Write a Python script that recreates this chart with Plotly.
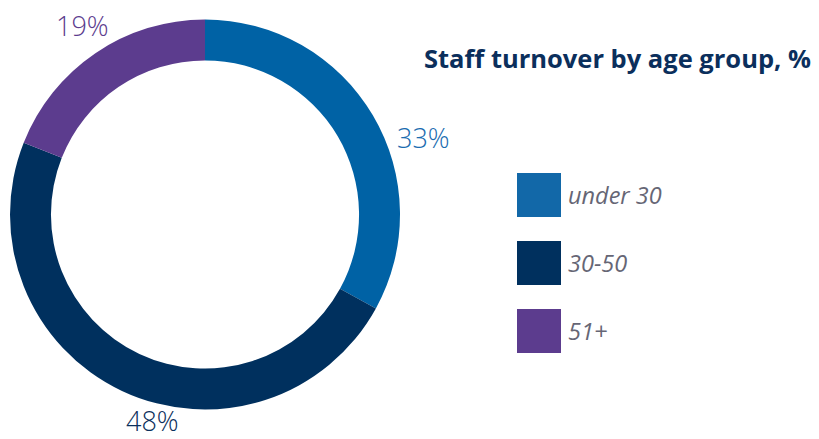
import plotly.graph_objects as go

# Staff turnover shares by age group
groups = ["under 30", "30-50", "51+"]
shares = [33, 48, 19]
slice_colors = ["#0062A5", "#00305E", "#5C3C8E"]
label_colors = ["#1A6CB0", "#0B2F5C", "#5C3C8E"]
legend_colors = ["#1268A8", "#00305E", "#5C3C8E"]
title_text = "Staff turnover by age group, %"

W, H = 819, 439

fig = go.Figure(
    go.Pie(
        labels=groups,
        values=shares,
        marker=dict(colors=slice_colors, line=dict(width=0)),
        hole=0.79,
        sort=False,
        direction="clockwise",
        rotation=0,
        textinfo="none",
        hoverinfo="label+percent",
        showlegend=False,
        domain=dict(x=[10 / W, 400 / W], y=[1 - 410 / H, 1 - 19 / H]),
    )
)

annotations = []
# value labels around the ring (pixel anchor positions)
label_pos = [(423, 137), (152, 420), (82, 25)]
for v, c, (px, py) in zip(shares, label_colors, label_pos):
    annotations.append(dict(
        x=px / W, y=1 - py / H, xref="paper", yref="paper",
        text=f"{v}%", showarrow=False, xanchor="center", yanchor="middle",
        font=dict(family="Open Sans", size=27, color=c, weight=300),
    ))

# title
annotations.append(dict(
    x=813 / W, y=1 - 58 / H, xref="paper", yref="paper",
    text=title_text, showarrow=False, xanchor="right", yanchor="middle",
    font=dict(family="Open Sans", size=25.5, color="#0B2F5C", weight=700),
))

# legend: coloured squares with italic captions
shapes = []
sq_x0, sq_size = 517, 44
row_top = [173, 241, 309]
for g, c, top in zip(groups, legend_colors, row_top):
    shapes.append(dict(
        type="rect", xref="paper", yref="paper",
        x0=sq_x0 / W, x1=(sq_x0 + sq_size) / W,
        y0=1 - (top + sq_size) / H, y1=1 - top / H,
        fillcolor=c, line=dict(width=0),
    ))
    annotations.append(dict(
        x=566 / W, y=1 - (top + sq_size / 2) / H, xref="paper", yref="paper",
        text=f"<i>{g}</i>", showarrow=False, xanchor="left", yanchor="middle",
        font=dict(family="Open Sans", size=23.5, color="#666675"),
    ))

fig.update_layout(
    width=W, height=H,
    margin=dict(l=0, r=0, t=0, b=0),
    paper_bgcolor="white", plot_bgcolor="white",
    annotations=annotations, shapes=shapes,
)

fig.write_html("out.html")
